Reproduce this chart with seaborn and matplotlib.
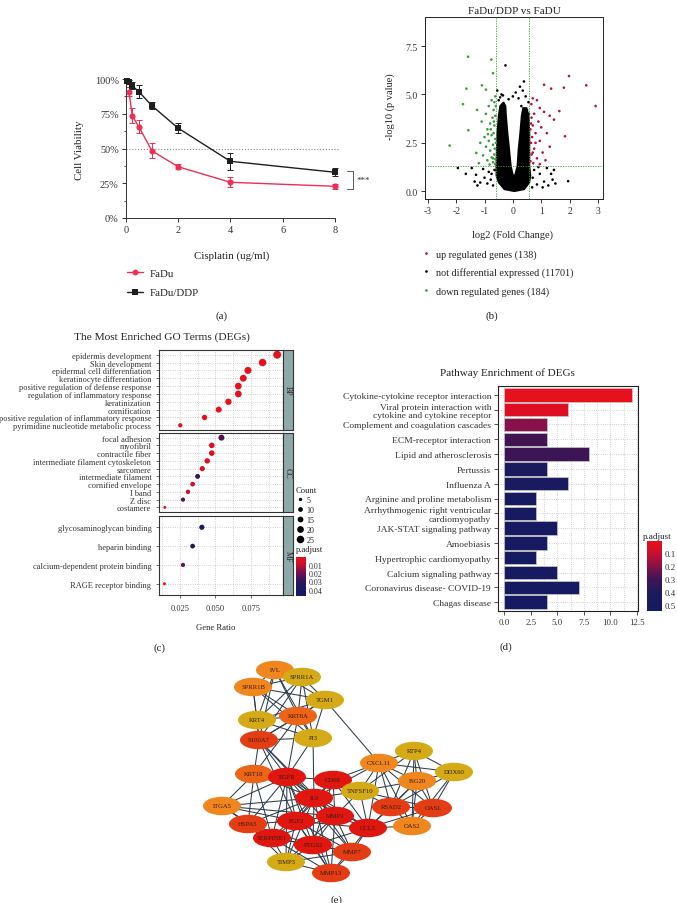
import numpy as np
import pandas as pd
import matplotlib
matplotlib.use("Agg")
import matplotlib.pyplot as plt
import seaborn as sns
from matplotlib.colors import LinearSegmentedColormap, Normalize
from matplotlib.patches import Ellipse
from matplotlib.lines import Line2D
import matplotlib.cm as cm

sns.set_theme(style="white")
plt.rcParams.update({
    "font.family": ["Liberation Serif", "DejaVu Serif"],
    "axes.edgecolor": "#333333",
    "axes.linewidth": 0.7,
    "axes.unicode_minus": False,
    "xtick.color": "#333333",
    "ytick.color": "#333333",
    "text.color": "#222222",
})

# ---------------- (a) cell viability ----------------
dose_fadu = [0.125, 0.25, 0.5, 1, 2, 4, 8]
viab_fadu = [90.9, 73.6, 65.7, 48.4, 36.9, 25.7, 22.8]
err_fadu = [3.0, 5.5, 4.5, 5.5, 1.8, 3.5, 1.8]
dose_ddp = [0.0625, 0.125, 0.25, 0.5, 1, 2, 4, 8]
viab_ddp = [98.3, 97.6, 95.2, 90.9, 80.8, 64.7, 40.8, 32.9]
err_ddp = [1.5, 1.5, 2.5, 4.5, 2.5, 3.5, 6.0, 3.0]

# ---------------- (b) volcano ----------------
green_x = [-1.58, -0.76, -0.70, -1.64, -1.09, -0.95, -1.76, -1.26, -0.62, -0.65, -0.75, -0.85,
           -0.68, -0.95, -0.62, -0.72, -1.10, -0.80, -0.65, -0.90, -1.57, -0.68, -0.75, -1.00,
           -0.62, -0.85, -1.15, -0.70, -2.23, -0.95, -0.64, -0.80, -1.29, -0.66, -1.05, -0.75,
           -0.62, -0.90, -0.70, -1.20, -0.63, -0.82, -0.67, -0.60, -0.78, -0.88, -0.60, -0.70]
green_y = [6.95, 6.80, 6.10, 5.30, 5.47, 5.25, 4.50, 4.20, 4.90, 4.60, 4.70, 4.40,
           4.20, 4.00, 3.90, 3.80, 3.60, 3.50, 3.40, 3.20, 3.15, 3.00, 2.90, 2.80,
           2.70, 2.60, 2.50, 2.40, 2.36, 2.30, 2.20, 2.10, 1.98, 1.90, 1.85, 1.75,
           1.65, 1.60, 1.50, 1.45, 1.40, 1.38, 3.60, 4.40, 3.20, 2.95, 2.50, 1.70]
red_x = [1.98, 2.59, 2.92, 1.35, 1.10, 1.80, 1.64, 1.84, 0.70, 0.85, 0.65, 0.95, 1.10,
         0.75, 1.30, 0.66, 0.90, 1.45, 0.70, 1.00, 0.62, 0.80, 1.20, 0.68, 0.95, 1.30,
         0.64, 0.75, 1.05, 0.66, 0.85, 1.15, 0.62, 0.72, 0.95, 0.80, 0.64, 0.70]
red_y = [5.95, 5.47, 4.40, 5.30, 5.50, 5.35, 4.14, 2.84, 4.80, 4.70, 4.50, 4.30, 4.10,
         4.00, 3.90, 3.80, 3.60, 3.70, 3.40, 3.30, 3.20, 3.00, 3.00, 2.80, 2.60, 2.30,
         2.50, 2.20, 2.00, 1.90, 1.70, 1.60, 1.55, 1.45, 1.40, 2.50, 3.50, 2.00]
black_x = [-0.26, 0.39, 0.10, -0.35, -0.45, 0.20, 0.45, 0.55, -0.50, 0.30, 0.50, -0.55, 0.57,
           -1.94, -1.66, -1.45, -1.30, -1.15, -1.00, -0.90, -0.85, -1.05, -0.75, -0.70, -0.65,
           -0.78, -1.35, -1.25, 1.95, 1.40, 1.50, 1.35, 1.20, 1.10, 0.95, 0.85, 0.75, 0.90,
           1.05, 0.70, 1.25, 1.45, 0.68, -0.40, 0.35, -0.15, 0.00, 0.25]
black_y = [6.50, 5.67, 5.10, 4.95, 4.85, 4.80, 4.90, 4.60, 4.70, 4.40, 4.20, 5.20, 4.00,
           1.20, 0.90, 1.20, 0.85, 0.45, 0.70, 0.40, 1.00, 1.15, 0.90, 0.30, 1.10,
           0.60, 0.50, 0.30, 0.52, 0.60, 0.40, 0.90, 1.20, 0.50, 0.90, 0.35, 1.10, 1.25,
           0.20, 0.70, 0.30, 1.10, 0.20, 5.00, 5.20, 4.75, 4.90, 5.40]
# outline of the dense, overplotted "V" of non-differential genes
core_x = [0.05, -0.30, -0.50, -0.58, -0.585, -0.57, -0.55, -0.50, -0.45, -0.33, -0.26,
          -0.24, -0.19, -0.13, -0.07, 0.00, 0.07, 0.16, 0.20, 0.26, 0.31, 0.36, 0.48,
          0.56, 0.585, 0.585, 0.585, 0.62, 0.58, 0.40]
core_y = [0.00, 0.10, 0.45, 0.80, 1.30, 2.18, 3.04, 3.90, 4.40, 4.60, 4.40,
          3.90, 3.04, 2.18, 1.30, 0.85, 0.80, 1.30, 2.18, 3.04, 3.90, 4.30, 4.30,
          3.90, 3.04, 2.18, 1.30, 0.80, 0.45, 0.10]
volcano_labels = ["up regulated genes (138)", "not differential expressed (11701)",
                  "down regulated genes (184)"]

# ---------------- (c) GO dot plot ----------------
bp_terms = ["epidermis development", "Skin development", "epidermal cell differentiation",
            "keratinocyte differentiation", "positive regulation of defense response",
            "regulation of inflammatory response", "keratinization", "cornification",
            "positive regulation of inflammatory response",
            "pyrimidine nucleotide metabolic process"]
bp_ratio = [0.0935, 0.0832, 0.0729, 0.0696, 0.0661, 0.0661, 0.0591, 0.0523, 0.0423, 0.0252]
bp_count = [28, 25, 22, 21, 20, 20, 18, 16, 13, 8]
bp_padj = [2e-7, 5e-7, 3e-6, 4e-6, 1e-5, 2e-5, 6e-5, 1e-4, 3e-4, 2e-3]
cc_terms = ["focal adhesion", "myofibril", "contractile fiber",
            "intermediate filament cytoskeleton", "sarcomere", "intermediate filament",
            "cornified envelope", "I band", "Z disc", "costamere"]
cc_ratio = [0.0542, 0.0474, 0.0474, 0.0442, 0.0407, 0.0374, 0.0339, 0.0306, 0.0271, 0.0143]
cc_count = [16, 14, 14, 13, 12, 11, 10, 9, 8, 4]
cc_padj = [0.024, 0.004, 0.004, 0.003, 0.005, 0.027, 0.004, 0.006, 0.024, 0.004]
mf_terms = ["glycosaminoglycan binding", "heparin binding",
            "calcium-dependent protein binding", "RAGE receptor binding"]
mf_ratio = [0.0404, 0.0339, 0.0271, 0.0140]
mf_count = [12, 10, 8, 4]
mf_padj = [0.045, 0.042, 0.020, 0.004]
count_legend = [5, 10, 15, 20, 25]

# ---------------- (d) KEGG bars ----------------
path_names = ["Cytokine-cytokine receptor interaction",
              "Viral protein interaction with\ncytokine and cytokine receptor",
              "Complement and coagulation cascades", "ECM-receptor interaction",
              "Lipid and atherosclerosis", "Pertussis", "Influenza A",
              "Arginine and proline metabolism",
              "Arrhythmogenic right ventricular\ncardiomyopathy",
              "JAK-STAT signaling pathway", "Amoebiasis", "Hypertrophic cardiomyopathy",
              "Calcium signaling pathway", "Coronavirus disease- COVID-19", "Chagas disease"]
path_count = [12, 6, 4, 4, 8, 4, 6, 3, 3, 5, 4, 3, 5, 7, 4]
path_padj = [0.015, 0.05, 0.20, 0.30, 0.31, 0.46, 0.47, 0.50, 0.50, 0.50, 0.51, 0.52,
             0.52, 0.52, 0.54]

# ---------------- (e) PPI network ----------------
node_names = ["IVL", "SPRR1A", "SPRR1B", "TGM1", "KRT4", "KRT6A", "S100A7", "PI3",
              "RTP4", "CXCL11", "DDX60", "KRT18", "EGFR", "CD68", "ISG20", "TNFSF10",
              "IL6", "ITGA5", "RSAD2", "OASL", "MMP1", "FGF2", "HSPA5", "CCL5", "OAS2",
              "SERPINE1", "PTGS2", "MMP7", "TIMP3", "MMP13"]
node_x = [275, 302, 253, 325, 257, 298, 259, 313, 414, 379, 454, 254, 287, 333, 417, 360,
          314, 222, 391, 433, 335, 296, 248, 368, 412, 272, 313, 352, 286, 331]
node_y = [671, 678, 688, 701, 721, 717, 741, 739, 752, 764, 773, 775, 778, 781, 782, 792,
          799, 807, 808, 809, 817, 822, 825, 829, 827, 839, 846, 853, 863, 874]
node_level = [1, 0, 1, 0, 0, 2, 3, 0, 0, 1, 0, 2, 4, 4, 1, 0,
              4, 1, 3, 3, 4, 4, 3, 4, 1, 4, 4, 3, 0, 3]
edges = [
    "IVL-SPRR1A", "IVL-SPRR1B", "IVL-TGM1", "IVL-KRT4", "IVL-KRT6A", "IVL-S100A7", "IVL-PI3",
    "SPRR1A-SPRR1B", "SPRR1A-TGM1", "SPRR1A-KRT4", "SPRR1A-KRT6A", "SPRR1A-S100A7",
    "SPRR1A-PI3", "SPRR1B-TGM1", "SPRR1B-KRT4", "SPRR1B-KRT6A", "SPRR1B-S100A7",
    "SPRR1B-PI3", "TGM1-KRT4", "TGM1-KRT6A", "TGM1-S100A7", "TGM1-PI3", "KRT4-KRT6A",
    "KRT4-S100A7", "KRT6A-S100A7", "KRT6A-PI3", "S100A7-PI3", "KRT4-PI3",
    "TGM1-CXCL11", "S100A7-KRT18", "S100A7-EGFR", "S100A7-IL6", "S100A7-MMP1",
    "S100A7-FGF2", "KRT6A-EGFR", "KRT6A-KRT18", "PI3-IL6", "PI3-EGFR",
    "RTP4-CXCL11", "RTP4-DDX60", "RTP4-ISG20", "RTP4-RSAD2", "RTP4-OASL", "RTP4-OAS2",
    "RTP4-TNFSF10", "CXCL11-DDX60", "CXCL11-ISG20", "CXCL11-RSAD2", "CXCL11-OASL",
    "CXCL11-OAS2", "CXCL11-TNFSF10", "DDX60-ISG20", "DDX60-RSAD2", "DDX60-OASL",
    "DDX60-OAS2", "ISG20-RSAD2", "ISG20-OASL", "ISG20-OAS2", "ISG20-TNFSF10",
    "RSAD2-OASL", "RSAD2-OAS2", "RSAD2-TNFSF10", "OASL-OAS2", "TNFSF10-OASL",
    "CXCL11-CD68", "CXCL11-IL6", "CXCL11-CCL5", "TNFSF10-IL6", "TNFSF10-CCL5",
    "TNFSF10-MMP1", "RSAD2-CCL5", "CCL5-OAS2", "CCL5-ISG20", "CD68-TNFSF10", "CCL5-OASL",
    "KRT18-EGFR", "KRT18-HSPA5", "KRT18-ITGA5", "KRT18-SERPINE1", "KRT18-IL6",
    "EGFR-CD68", "EGFR-IL6", "EGFR-ITGA5", "EGFR-MMP1", "EGFR-FGF2", "EGFR-HSPA5",
    "EGFR-CCL5", "EGFR-SERPINE1", "EGFR-PTGS2", "EGFR-MMP7", "EGFR-TIMP3", "EGFR-MMP13",
    "CD68-IL6", "CD68-MMP1", "CD68-CCL5", "CD68-FGF2", "CD68-PTGS2", "IL6-ITGA5",
    "IL6-MMP1", "IL6-FGF2", "IL6-HSPA5", "IL6-CCL5", "IL6-SERPINE1", "IL6-PTGS2",
    "IL6-MMP7", "IL6-TIMP3", "IL6-MMP13", "ITGA5-FGF2", "ITGA5-HSPA5", "ITGA5-SERPINE1",
    "ITGA5-MMP1", "MMP1-FGF2", "MMP1-CCL5", "MMP1-SERPINE1", "MMP1-PTGS2", "MMP1-MMP7",
    "MMP1-TIMP3", "MMP1-MMP13", "FGF2-HSPA5", "FGF2-CCL5", "FGF2-SERPINE1", "FGF2-PTGS2",
    "FGF2-MMP7", "FGF2-TIMP3", "FGF2-MMP13", "HSPA5-SERPINE1", "HSPA5-PTGS2",
    "CCL5-PTGS2", "CCL5-MMP7", "CCL5-MMP13", "SERPINE1-PTGS2", "SERPINE1-TIMP3",
    "SERPINE1-MMP13", "SERPINE1-MMP7", "PTGS2-MMP7", "PTGS2-TIMP3", "PTGS2-MMP13",
    "MMP7-MMP13", "MMP7-TIMP3", "TIMP3-MMP13", "HSPA5-TIMP3",
]

# ---------------- layout helpers ----------------
W, H = 677, 904
fig = plt.figure(figsize=(W / 100, H / 100), dpi=100)


def px_axes(l, t, r, b):
    return fig.add_axes([l / W, 1 - b / H, (r - l) / W, (b - t) / H])


def ftext(x, y, s, **kw):
    kw.setdefault("ha", "center")
    kw.setdefault("va", "center")
    fig.text(x / W, 1 - y / H, s, **kw)


RED = "#ec2f52"
BLK = "#1e1e1e"
enrich_cmap = LinearSegmentedColormap.from_list(
    "enrich", [(0.0, "#e8101c"), (0.15, "#d0102a"), (0.35, "#8a1048"),
               (0.55, "#3c1555"), (0.75, "#1d1a5e"), (1.0, "#141a62")])

# ================= panel (a) =================
ax = px_axes(125.7, 80, 335, 219)
for dose, via, err, col, mk, ms in [(dose_ddp, viab_ddp, err_ddp, BLK, "s", 4.6),
                                    (dose_fadu, viab_fadu, err_fadu, RED, "o", 4.4)]:
    ax.errorbar(dose, via, yerr=err, fmt="none", ecolor=col, elinewidth=0.7,
                capsize=2.2, capthick=0.7, clip_on=False, zorder=2)
    sns.lineplot(x=dose, y=via, ax=ax, color=col, marker=mk, markersize=ms,
                 markeredgewidth=0, linewidth=1.0, errorbar=None, clip_on=False, zorder=3)
ax.axhline(50, xmax=1.015, color="#8a8a8a", ls=(0, (1, 1.6)), lw=0.8, clip_on=False, zorder=1)
ax.set_xlim(0, 8)
ax.set_ylim(0, 100)
ax.set_xticks([0, 2, 4, 6, 8])
ax.set_yticks([0, 25, 50, 75, 100])
ax.set_yticks([12.5, 37.5, 62.5, 87.5], minor=True)
ax.set_yticklabels([f"{v}%" for v in [0, 25, 50, 75, 100]])
ax.tick_params(axis="both", which="major", direction="out", length=3, width=0.7,
               labelsize=7.4, pad=2, left=True, bottom=True)
ax.tick_params(axis="y", which="minor", direction="out", length=1.8, width=0.6, left=True)
sns.despine(ax=ax)
ax.set_xlabel("")
ax.set_ylabel("")
ftext(79, 150, "Cell Viability", rotation=90, fontsize=7.8)
ftext(232, 256, "Cisplatin (ug/ml)", fontsize=7.8)
# significance bracket between the two 8 ug/ml points
ax.plot([8.46, 8.68, 8.68, 8.46], [34, 34, 21, 21], color="#555555", lw=0.7, clip_on=False)
ax.text(9.1, 27.2, "***", ha="center", va="center", fontsize=6.5, color="#333333", clip_on=False)
hand_a = [Line2D([0], [0], color=RED, marker="o", ms=4.2, mew=0, lw=1.0),
          Line2D([0], [0], color=BLK, marker="s", ms=4.2, mew=0, lw=1.0)]
ax.legend(hand_a, ["FaDu", "FaDu/DDP"], loc="upper left", bbox_to_anchor=(127 / W, 1 - 269 / H),
          bbox_transform=fig.transFigure, frameon=False, fontsize=7.8, handlelength=1.5,
          handletextpad=0.6, labelspacing=0.95, borderpad=0, borderaxespad=0)
ftext(222, 316, "(a)", fontsize=7.8)

# ================= panel (b) =================
axb = px_axes(425, 18, 603, 200)
axb.fill(core_x, core_y, color="black", lw=1.2, zorder=1)
vdf = pd.DataFrame({
    "x": red_x + black_x + green_x,
    "y": red_y + black_y + green_y,
    "grp": ["up"] * len(red_x) + ["ns"] * len(black_x) + ["down"] * len(green_x),
})
sns.scatterplot(data=vdf, x="x", y="y", hue="grp",
                palette={"up": "#b3122e", "ns": "black", "down": "#3b9a3b"},
                s=3.5, linewidth=0, legend=False, ax=axb, zorder=2)
for xv in (-0.585, 0.585):
    axb.axvline(xv, color="#3b9a3b", ls=(0, (1.5, 1.5)), lw=0.6, zorder=3)
axb.axhline(1.301, color="#3b9a3b", ls=(0, (1.5, 1.5)), lw=0.6, zorder=3)
axb.set_xlim(-3.1, 3.18)
axb.set_ylim(-0.4, 9.0)
axb.set_xticks([-3, -2, -1, 0, 1, 2, 3])
axb.set_yticks([0, 2.5, 5.0, 7.5])
axb.set_yticklabels(["0.0", "2.5", "5.0", "7.5"])
axb.tick_params(direction="out", length=3, width=0.7, labelsize=7.0, pad=2, left=True, bottom=True)
for sp in axb.spines.values():
    sp.set_color("#222222")
axb.set_xlabel("")
axb.set_ylabel("")
ftext(390, 107, "-log10 (p value)", rotation=90, fontsize=7.5)
ftext(513, 235, "log2 (Fold Change)", fontsize=7.5)
ftext(514, 12, "FaDu/DDP vs FaDU", fontsize=8.0)
hand_b = [Line2D([0], [0], ls="none", marker="o", ms=1.9, mew=0, color=c)
          for c in ["#b3122e", "black", "#3b9a3b"]]
axb.legend(hand_b, volcano_labels, loc="upper left", bbox_to_anchor=(422 / W, 1 - 250 / H),
           bbox_transform=fig.transFigure, frameon=False, fontsize=7.3, handlelength=0.7,
           handletextpad=0.7, labelspacing=0.86, borderpad=0, borderaxespad=0)
ftext(492, 316, "(b)", fontsize=7.8)

# ================= panel (c) =================
norm_go = Normalize(0.0, 0.048)
facets = [("BP", bp_terms, bp_ratio, bp_count, bp_padj, 351, 431),
          ("CC", cc_terms, cc_ratio, cc_count, cc_padj, 434, 513),
          ("MF", mf_terms, mf_ratio, mf_count, mf_padj, 517, 596)]
for name, terms, ratio, count, padj, top, bot in facets:
    axc = px_axes(159, top, 283, bot)
    n = len(terms)
    gdf = pd.DataFrame({"ratio": ratio, "pos": np.arange(n), "count": count, "padj": padj})
    sns.scatterplot(data=gdf, x="ratio", y="pos", size="count", sizes=(1.17, 35),
                    size_norm=(1, 30), hue="padj", palette=enrich_cmap, hue_norm=norm_go,
                    linewidth=0, legend=False, ax=axc, zorder=3)
    axc.set_xlim(0.0102, 0.0976)
    axc.set_ylim(n - 0.4, -0.6)
    axc.set_yticks(np.arange(n))
    axc.set_yticklabels(terms, fontsize=6.0)
    axc.set_xticks([0.025, 0.050, 0.075])
    axc.set_xticks([0.0125, 0.0375, 0.0625, 0.0875], minor=True)
    axc.grid(True, which="both", axis="x", color="#a8a8a8", ls=(0, (1, 2.2)), lw=0.5)
    axc.grid(True, which="major", axis="y", color="#a8a8a8", ls=(0, (1, 2.2)), lw=0.5)
    axc.set_axisbelow(True)
    axc.tick_params(axis="y", direction="out", length=2.5, width=0.5, pad=3, left=True)
    axc.tick_params(axis="x", which="minor", length=0)
    if name == "MF":
        axc.set_xticklabels(["0.025", "0.050", "0.075"])
        axc.tick_params(axis="x", which="major", direction="out", length=2.5, width=0.5,
                        labelsize=6.0, pad=4, bottom=True)
    else:
        axc.tick_params(axis="x", which="major", length=0, labelbottom=False)
    for sp in axc.spines.values():
        sp.set_color("#333333")
        sp.set_linewidth(0.8)
    axc.set_xlabel("")
    axc.set_ylabel("")
    sax = px_axes(283, top, 293, bot)
    sax.set_facecolor("#8fa9a9")
    sax.set_xticks([])
    sax.set_yticks([])
    for sp in sax.spines.values():
        sp.set_color("#333333")
        sp.set_linewidth(0.8)
    sax.text(0.5, 0.5, name, rotation=-90, ha="center", va="center", fontsize=5.8,
             transform=sax.transAxes, color="#222222")
ftext(162, 337, "The Most Enriched GO Terms (DEGs)", fontsize=8.2)
ftext(216, 628, "Gene Ratio", fontsize=6.2)
hand_c = [Line2D([0], [0], ls="none", marker="o", color="black", mew=0,
                 ms=np.sqrt(1.17 * c)) for c in count_legend]
leg_c = fig.legend(hand_c, [str(c) for c in count_legend], title="Count", loc="upper left",
                   bbox_to_anchor=(296 / W, 1 - 487 / H), frameon=False, fontsize=5.8,
                   title_fontsize=6.2, handlelength=0.9, handletextpad=0.4,
                   labelspacing=0.25, borderpad=0, borderaxespad=0)
leg_c._legend_box.align = "left"
cax_c = px_axes(296, 558, 306, 597)
cb_c = fig.colorbar(cm.ScalarMappable(norm=norm_go, cmap=enrich_cmap), cax=cax_c)
cb_c.set_ticks([0.01, 0.02, 0.03, 0.04])
cb_c.set_ticklabels(["0.01", "0.02", "0.03", "0.04"])
cax_c.invert_yaxis()
cb_c.outline.set_linewidth(0)
cax_c.tick_params(labelsize=5.8, length=1.5, width=0.5, color="white", direction="in", pad=2)
ftext(296, 550, "p.adjust", fontsize=6.2, ha="left")
ftext(159, 648, "(c)", fontsize=7.8)

# ================= panel (d) =================
norm_kegg = Normalize(0.01, 0.55)
bar_colors = [enrich_cmap(norm_kegg(p)) for p in path_padj]
axd = px_axes(498, 387, 638, 612)
sns.barplot(x=path_count, y=path_names, hue=path_names, palette=bar_colors, legend=False,
            saturation=1, width=0.9, edgecolor="#c8c8c8", linewidth=0.5, orient="h",
            ax=axd, zorder=3)
axd.set_xlim(-0.6, 12.6)
axd.set_ylim(len(path_names) - 0.4, -0.6)
axd.set_xticks([0, 2.5, 5.0, 7.5, 10.0, 12.5])
axd.set_xticklabels(["0.0", "2.5", "5.0", "7.5", "10.0", "12.5"])
axd.set_xticks([1.25, 3.75, 6.25, 8.75, 11.25], minor=True)
axd.set_yticks(np.arange(len(path_names)))
axd.set_yticklabels(path_names, fontsize=6.8, linespacing=1.05)
axd.grid(True, which="both", axis="x", color="#a8a8a8", ls=(0, (1, 2.2)), lw=0.5)
axd.grid(True, which="major", axis="y", color="#a8a8a8", ls=(0, (1, 2.2)), lw=0.5)
axd.set_axisbelow(True)
axd.tick_params(axis="both", which="major", direction="out", length=3, width=0.6,
                labelsize=6.4, pad=2, left=True, bottom=True)
axd.tick_params(axis="y", labelsize=6.8)
axd.tick_params(axis="x", which="minor", length=0)
for sp in axd.spines.values():
    sp.set_color("#222222")
    sp.set_linewidth(0.8)
axd.set_xlabel("")
axd.set_ylabel("")
ftext(507, 373, "Pathway Enrichment of DEGs", fontsize=8.0)
cax_d = px_axes(647, 542, 662, 612)
cb_d = fig.colorbar(cm.ScalarMappable(norm=norm_kegg, cmap=enrich_cmap), cax=cax_d)
cb_d.set_ticks([0.1, 0.2, 0.3, 0.4, 0.5])
cb_d.set_ticklabels(["0.1", "0.2", "0.3", "0.4", "0.5"])
cax_d.invert_yaxis()
cb_d.outline.set_linewidth(0)
cax_d.tick_params(labelsize=6.4, length=2, width=0.6, color="white", direction="in",
                  left=True, right=True, pad=2)
ftext(643, 537, "p.adjust", fontsize=6.6, ha="left")
ftext(506, 647, "(d)", fontsize=7.8)

# ================= panel (e) =================
level_colors = ["#d5aa17", "#f0861e", "#ec6418", "#e43c14", "#e01610"]
pos = {n: (x, y) for n, x, y in zip(node_names, node_x, node_y)}
axe = px_axes(180, 650, 500, 895)
for e in edges:
    a, b = e.split("-")
    axe.plot([pos[a][0], pos[b][0]], [pos[a][1], pos[b][1]], color="#2d3c48",
             lw=0.75, zorder=1)
for n, x, y, lv in zip(node_names, node_x, node_y, node_level):
    axe.add_patch(Ellipse((x, y), 38, 18.5, facecolor=level_colors[lv], edgecolor="none", zorder=2))
    axe.text(x, y, n, fontsize=4.8, ha="center", va="center", color="#3a1c05", zorder=3)
axe.set_xlim(180, 500)
axe.set_ylim(895, 650)
axe.axis("off")
ftext(336, 900, "(e)", fontsize=7.8)

fig.savefig("out.png", dpi=100)
